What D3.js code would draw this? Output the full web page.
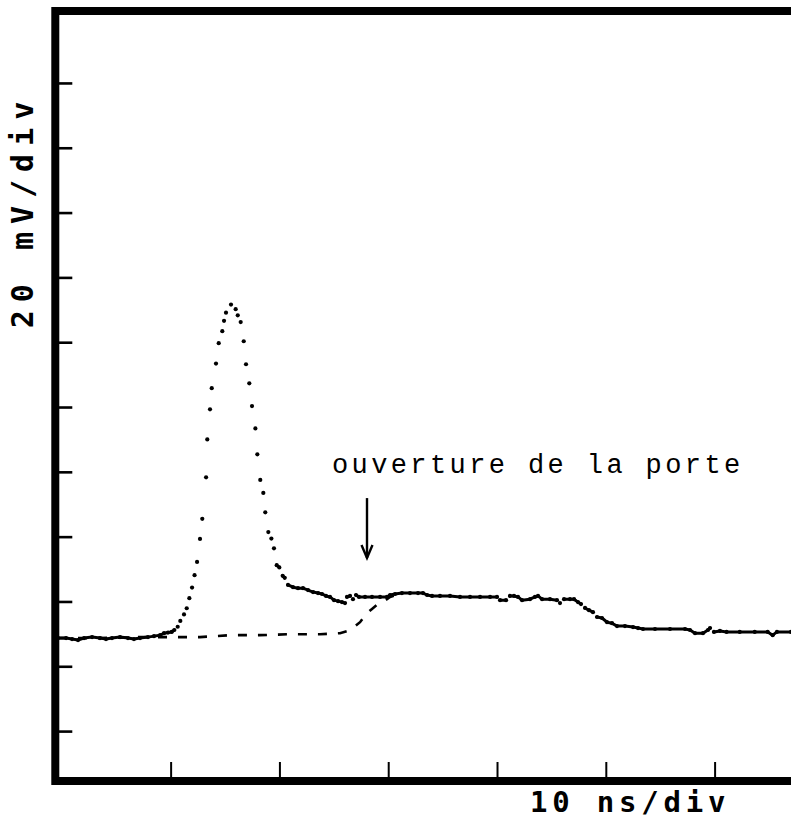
<!DOCTYPE html>
<html>
<head>
<meta charset="utf-8">
<script src="https://cdn.jsdelivr.net/npm/d3@7"></script>
<style>
  html, body { margin: 0; padding: 0; background: #fff; }
  svg { display: block; }
</style>
</head>
<body>
<svg id="chart" width="791" height="818"></svg>
<script>
// Recorded trace: time (ns) and amplitude (mV)
const signalTime = [-0.35,0.39,0.94,1.49,2.04,2.78,3.51,4.06,4.61,5.35,6.08,6.63,7.19,7.92,8.47,9.03,9.39,9.76,
  10.10,10.34,10.65,10.89,11.23,11.48,11.72,11.97,12.20,12.43,12.70,12.91,13.26,13.37,13.62,13.78,14.17,14.42,14.75,14.91,15.09,15.55,
  15.98,16.17,16.44,16.72,16.93,17.23,17.48,17.79,17.97,18.24,18.52,18.70,18.98,19.26,19.50,19.75,19.99,20.30,20.49,
  20.79,21.25,21.71,22.17,22.63,23.09,23.55,23.92,24.28,24.65,25.02,25.39,25.75,26.03,26.21,26.49,26.76,27.04,27.31,27.87,
  28.51,29.25,29.89,30.17,30.63,31.26,32.00,32.74,33.20,33.57,34.03,34.76,35.68,36.60,37.52,38.44,39.36,40.00,40.28,40.83,
  41.19,41.56,41.93,42.30,43.03,43.49,43.77,44.14,44.87,45.51,45.79,46.16,46.71,47.08,47.44,47.72,48.09,48.45,48.82,49.19,
  49.65,50.11,50.57,51.03,51.76,52.50,52.96,53.42,54.52,55.90,57.28,57.74,58.20,58.93,59.39,59.58,59.94,60.49,61.10,62.31,
  63.69,64.88,65.34,65.73,67.02];
const signalMv = [28.7,28.7,28.4,28.1,28.7,29.0,28.7,28.4,28.7,29.0,28.7,28.4,28.7,29.0,29.3,29.6,30.2,30.4,
  30.6,31.2,32.2,34.0,36.0,37.9,41.0,44.3,48.1,52.2,59.3,65.5,78.3,90.0,99.3,105.8,113.4,119.7,123.4,126.6,129.1,131.6,
  130.2,128.3,126.2,120.3,113.2,107.3,100.3,93.4,85.4,77.5,73.5,67.5,61.4,59.4,56.4,51.2,50.5,47.9,47.3,
  45.1,44.4,44.1,44.1,43.5,42.9,42.6,42.3,41.7,41.4,40.4,40.1,39.8,39.5,41.4,41.7,40.7,42.0,41.4,41.4,
  41.4,41.4,41.4,42.0,42.3,42.6,42.6,42.6,42.6,42.0,41.7,41.7,41.7,41.4,41.4,41.4,41.4,41.4,40.4,40.4,
  41.7,41.7,41.4,40.4,40.7,41.4,41.7,40.7,40.7,40.4,39.5,40.7,40.7,40.7,39.8,39.2,38.0,37.3,36.7,35.2,
  34.9,33.6,33.3,32.4,32.4,32.1,31.8,31.5,31.5,31.5,31.5,31.2,30.2,30.2,31.2,31.8,30.6,30.9,30.6,30.6,
  30.6,30.6,29.6,30.6,30.6];

// Reference trace without the pulse (dashed)
const referenceTime = [-0.35,3.51,7.19,10.50,12.70,15.46,18.22,20.97,23.73,25.57,26.31,26.86,27.41,27.96,28.51,29.06,29.61,30.17,30.72];
const referenceMv   = [28.7,28.7,29.0,29.0,29.0,29.6,29.6,29.9,29.9,30.2,30.9,32.1,33.6,36.1,37.7,39.2,40.1,41.4,42.0];

// Graticule ticks
const yTickMv = [0,20,40,60,80,100,120,140,160,180,200];
const xTickNs = [10,20,30,40,50,60];

// Texts
const yAxisLabel = "20 mV/div";
const xAxisLabel = "10 ns/div";
const gateLabel = "ouverture de la porte";

// Gate annotation: arrow time and extent, label anchor (ns, mV)
const gateTimeNs = 28.05;
const gateArrowMv = [71.9, 53.4];
const gateLabelPos = [24.83, 79.6];

const svg = d3.select("#chart");

// Screen extent in data units
const xDomain = [-0.6, 70];
const yDomain = [-15.4, 222.2];
const x = d3.scaleLinear().domain(xDomain).range([55.3, 823.4]);
const y = d3.scaleLinear().domain(yDomain).range([781, 11]);

// Frame
svg.append("rect")
  .attr("x", x(xDomain[0]))
  .attr("y", y(yDomain[1]))
  .attr("width", x(xDomain[1]) - x(xDomain[0]))
  .attr("height", y(yDomain[0]) - y(yDomain[1]))
  .attr("fill", "none")
  .attr("stroke", "#000")
  .attr("stroke-width", 8);

// Left ticks (pointing inward)
const yAxis = svg.append("g")
  .attr("transform", `translate(${x(xDomain[0])},0)`)
  .call(d3.axisRight(y).tickValues(yTickMv).tickSize(17).tickFormat(""));
yAxis.select(".domain").remove();
yAxis.selectAll(".tick line").attr("stroke", "#000").attr("stroke-width", 2.6);

// Bottom ticks (pointing inward)
const xAxis = svg.append("g")
  .attr("transform", `translate(0,${y(yDomain[0])})`)
  .call(d3.axisTop(x).tickValues(xTickNs).tickSize(19).tickFormat(""));
xAxis.select(".domain").remove();
xAxis.selectAll(".tick line").attr("stroke", "#000").attr("stroke-width", 2);

// Dashed reference trace
const refPts = referenceTime.map((t, i) => [t, referenceMv[i]]);
svg.append("path")
  .attr("d", d3.line().x(d => x(d[0])).y(d => y(d[1]))(refPts))
  .attr("fill", "none")
  .attr("stroke", "#000")
  .attr("stroke-width", 2.6)
  .attr("stroke-dasharray", "9,11");

// Main trace: samples joined where the signal moves slowly, left as dots where it is steep
const sigPts = signalTime.map((t, i) => [x(t), y(signalMv[i])]);
const p = d3.path();
let open = false;
for (let i = 1; i < sigPts.length; i++) {
  const [x0, y0] = sigPts[i - 1];
  const [x1, y1] = sigPts[i];
  const dx = x1 - x0, dy = Math.abs(y1 - y0);
  if (dy <= 0.8 * dx + 0.4) {
    if (!open) { p.moveTo(x0, y0); open = true; }
    p.lineTo(x1, y1);
  } else {
    open = false;
  }
}
svg.append("path")
  .attr("d", p.toString())
  .attr("fill", "none")
  .attr("stroke", "#000")
  .attr("stroke-width", 3)
  .attr("stroke-linecap", "round")
  .attr("stroke-linejoin", "round");

svg.append("g").selectAll("circle")
  .data(sigPts)
  .join("circle")
  .attr("cx", d => d[0])
  .attr("cy", d => d[1])
  .attr("r", 2.1)
  .attr("fill", "#000");

// Gate annotation
svg.append("text")
  .attr("x", x(gateLabelPos[0]))
  .attr("y", y(gateLabelPos[1]))
  .attr("font-family", "'Liberation Mono', 'DejaVu Sans Mono', monospace")
  .attr("font-size", 27)
  .attr("letter-spacing", 3.4)
  .attr("fill", "#000")
  .text(gateLabel);

const ax = x(gateTimeNs), ay0 = y(gateArrowMv[0]), ay1 = y(gateArrowMv[1]);
svg.append("line")
  .attr("x1", ax).attr("x2", ax)
  .attr("y1", ay0).attr("y2", ay1)
  .attr("stroke", "#000").attr("stroke-width", 2.4);
svg.append("path")
  .attr("d", `M${ax - 5.5},${ay1 - 13} L${ax},${ay1} L${ax + 5.5},${ay1 - 13}`)
  .attr("fill", "none")
  .attr("stroke", "#000")
  .attr("stroke-width", 2.4);

// Axis scale labels
svg.append("text")
  .attr("transform", `translate(33,${(y(yDomain[1]) + y(yDomain[0])) / 2 - 185}) rotate(-90)`)
  .attr("text-anchor", "middle")
  .attr("font-family", "'DejaVu Sans Mono', monospace")
  .attr("font-weight", "bold")
  .attr("font-size", 30)
  .attr("letter-spacing", 8)
  .attr("fill", "#000")
  .text(yAxisLabel);

svg.append("text")
  .attr("x", 530)
  .attr("y", 812)
  .attr("font-family", "'DejaVu Sans Mono', monospace")
  .attr("font-weight", "bold")
  .attr("font-size", 29)
  .attr("letter-spacing", 4.8)
  .attr("fill", "#000")
  .text(xAxisLabel);
</script>
</body>
</html>
